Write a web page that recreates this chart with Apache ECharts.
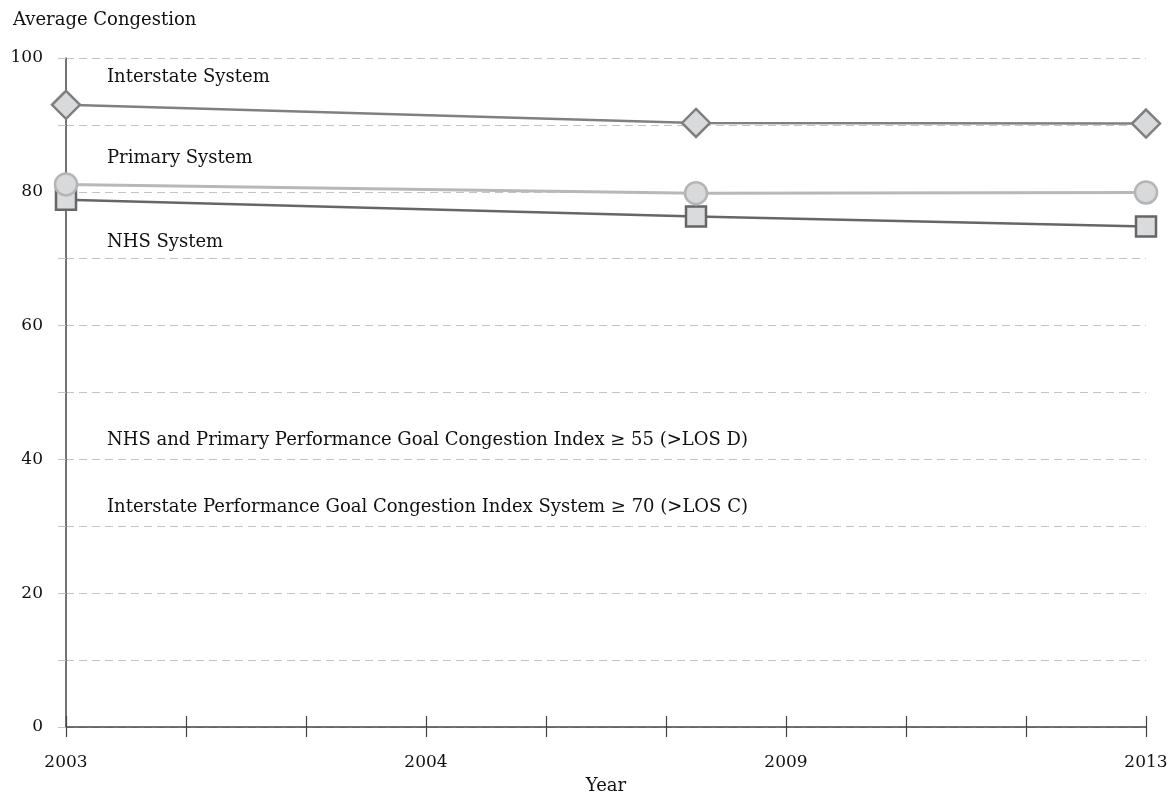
<!DOCTYPE html>
<html><head><meta charset="utf-8">
<script src="https://cdn.jsdelivr.net/npm/echarts@6/dist/echarts.min.js"></script>
<style>html,body{margin:0;padding:0;background:#fff}#c{width:1173px;height:800px}</style>
</head><body><div id="c"></div>
<script>
// x positions on the axis (tick index scale 0..9)
const xPositions = [0, 5.25, 9];
const tickLabels = {0: '2003', 3: '2004', 6: '2009', 9: '2013'};
const interstate = [93.0, 90.3, 90.2];
const primary = [81.1, 79.8, 79.9];
const nhs = [78.8, 76.3, 74.8];
const annotations = [
  'Interstate System',
  'Primary System',
  'NHS System',
  'NHS and Primary Performance Goal Congestion Index \u2265 55 (>LOS D)',
  'Interstate Performance Goal Congestion Index System \u2265 70 (>LOS C)'
];

const FONT = 'DejaVu Serif';
const pair = arr => arr.map((v, i) => [xPositions[i], v]);
const chart = echarts.init(document.getElementById('c'));
const annTop = [68, 149, 233, 431, 498];
chart.setOption({
  animation: false,
  backgroundColor: '#fff',
  textStyle: {fontFamily: FONT},
  title: {text: 'Average Congestion', left: 8, top: 6,
    textStyle: {fontFamily: FONT, fontSize: 18, fontWeight: 'normal', color: '#111'}},
  grid: {left: 66, right: 27, top: 58, bottom: 72, containLabel: false},
  xAxis: [{
    type: 'value', min: 0, max: 9, interval: 1,
    name: 'Year', nameLocation: 'middle', nameGap: 50,
    nameTextStyle: {fontFamily: FONT, fontSize: 18, color: '#111'},
    axisLine: {show: true, onZero: false, lineStyle: {color: '#444', width: 1.5}},
    axisTick: {show: true, length: 10, lineStyle: {color: '#444', width: 1.2}},
    axisLabel: {margin: 27, fontFamily: FONT, fontSize: 17, color: '#111',
      formatter: v => tickLabels[v] || ''},
    splitLine: {show: false}
  }, {
    type: 'value', min: 0, max: 9, interval: 1, position: 'bottom',
    axisLine: {show: false},
    axisTick: {show: true, inside: true, length: 11, lineStyle: {color: '#444', width: 1.2}},
    axisLabel: {show: false},
    splitLine: {show: false}
  }],
  yAxis: {
    type: 'value', min: 0, max: 100, interval: 10,
    axisLine: {show: true, onZero: false, lineStyle: {color: '#444', width: 1.5}},
    axisTick: {show: true, length: 13, lineStyle: {color: '#c4c4c4', width: 1, type: [8, 5]}},
    axisLabel: {margin: 23, fontFamily: FONT, fontSize: 17, color: '#111',
      formatter: v => (v % 20 === 0 ? String(v) : '')},
    splitLine: {show: true, lineStyle: {color: '#c4c4c4', width: 1, type: [8, 5]}}
  },
  series: [
    {name: 'NHS System', type: 'line', data: pair(nhs), symbol: 'rect', symbolSize: 20,
      lineStyle: {color: '#666', width: 2.5},
      itemStyle: {color: '#dadbdd', borderColor: '#666', borderWidth: 2.5}, z: 3},
    {name: 'Primary System', type: 'line', data: pair(primary), symbol: 'circle', symbolSize: 22,
      lineStyle: {color: '#b8b8b8', width: 3},
      itemStyle: {color: '#d8d9db', borderColor: '#b5b5b5', borderWidth: 2.5}, z: 4},
    {name: 'Interstate System', type: 'line', data: pair(interstate), symbol: 'diamond', symbolSize: 28,
      lineStyle: {color: '#808080', width: 2.5},
      itemStyle: {color: '#d9dadc', borderColor: '#7f7f7f', borderWidth: 2.5}, z: 5}
  ],
  graphic: annotations.map((t, i) => ({
    type: 'text', left: 107, top: annTop[i], z: 10,
    style: {text: t, font: '18px "' + FONT + '"', fill: '#111'}
  }))
});
</script></body></html>
